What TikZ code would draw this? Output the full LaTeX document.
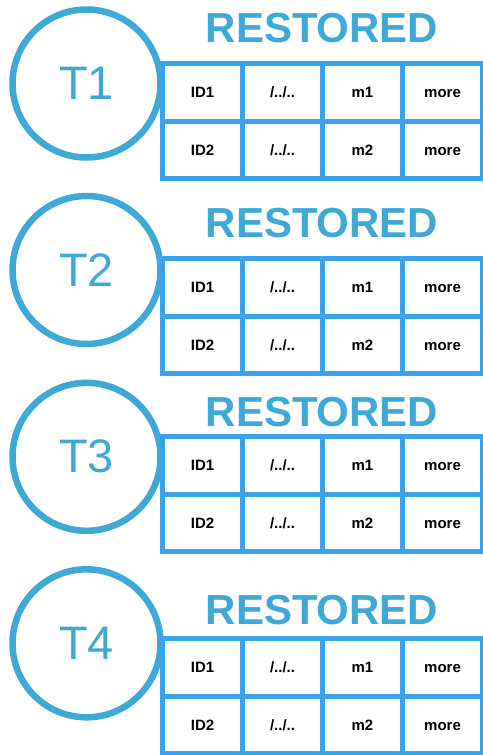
\documentclass[tikz,border=0pt]{standalone}
\usepackage{fontspec}
\setmainfont{Liberation Sans}
\usetikzlibrary{positioning}
\definecolor{ringblue}{RGB}{62,168,214}
\definecolor{gridblue}{RGB}{59,163,234}

\begin{document}
\begin{tikzpicture}[x=1pt, y=-1pt,
    ring/.style={circle, draw=ringblue, line width=6.5pt, minimum size=148pt, inner sep=0pt,
        text=ringblue, font=\fontsize{47}{47}\selectfont},
    banner/.style={inner sep=0pt, text=ringblue, font=\fontsize{42}{42}\selectfont\bfseries},
    cellbox/.style={inner sep=0pt, text height=10.7pt, text depth=0pt,
        font=\fontsize{15}{15}\selectfont\bfseries},
    tablegrid/.style={draw=gridblue, line width=5pt}]
    \useasboundingbox (0,0) rectangle (482,755);

    % one block per restore: circle, banner, table
    \foreach \n/\cy/\ty/\ry in {1/83.5/63.5/28, 2/270/258.5/223, 3/456.8/436.5/412, 4/643.3/638.5/610} {
        % circle with label
        \node[ring] (t\n) at (86.5,\cy) {T\n};
        % banner
        \node[banner] (r\n) at (322,\ry) {RESTORED};
        % table grid
        \draw[tablegrid] (162.5,\ty) rectangle (482.5,\ty+115);
        \draw[tablegrid] (162.5,\ty+57.5) -- (482.5,\ty+57.5);
        \foreach \x in {242.5, 322.5, 402.5}
            \draw[tablegrid] (\x,\ty) -- (\x,\ty+115);
        % cells
        \foreach \row in {1,2} {
            \node[cellbox] (c\n-\row-1) at (202.5,\ty+57.5*\row-28.75) {ID\row};
            \node[cellbox] (c\n-\row-2) at (282.5,\ty+57.5*\row-28.75) {/../..};
            \node[cellbox] (c\n-\row-3) at (362.5,\ty+57.5*\row-28.75) {m\row};
            \node[cellbox] (c\n-\row-4) at (442.5,\ty+57.5*\row-28.75) {more};
        }
    }
\end{tikzpicture}
\end{document}
